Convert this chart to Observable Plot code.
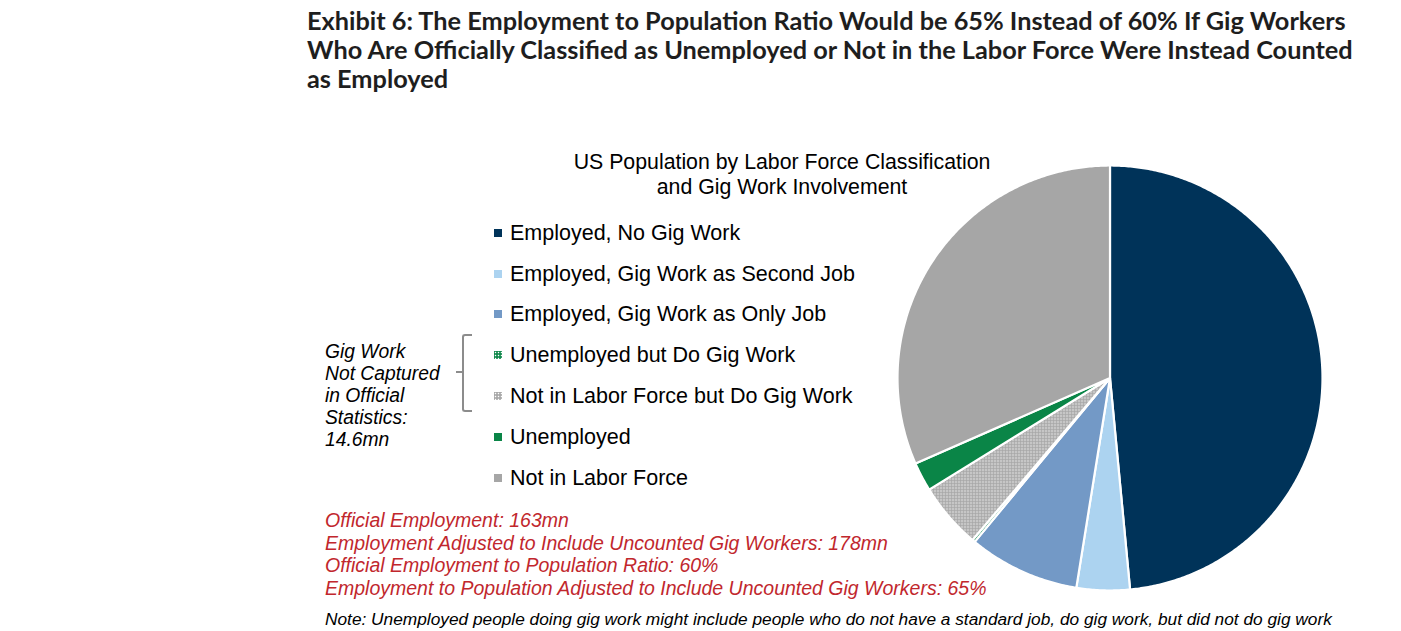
<!DOCTYPE html>
<html>
<head>
<meta charset="utf-8">
<script src="https://cdn.jsdelivr.net/npm/d3@7"></script>
<script src="https://cdn.jsdelivr.net/npm/@observablehq/plot@0.6"></script>
<style>
  body { margin: 0; background: #fff; }
  #wrap { position: relative; width: 1401px; height: 631px; overflow: hidden; font-family: "Liberation Sans", Arial, sans-serif; color: #000; }
  .abs { position: absolute; white-space: nowrap; }
  #title { left: 307px; top: 6px; font-family: Lato, "Open Sans", sans-serif; font-weight: 700; font-size: 25.3px; line-height: 29px; color: #1e1e1e; }
  #ctitle { left: 532px; width: 500px; top: 150px; text-align: center; font-size: 21.3px; line-height: 25px; }
  .leg { left: 494px; font-size: 21.5px; line-height: 24px; display: flex; align-items: center; }
  .leg .sw { width: 8px; height: 8px; margin-right: 8px; }
  #gig { left: 325px; top: 341px; font-size: 19.3px; line-height: 22px; font-style: italic; }
  #red { left: 325px; top: 509px; font-size: 19.5px; line-height: 22.5px; font-style: italic; color: #c1272d; }
  #note { left: 325px; top: 608px; font-size: 17.3px; line-height: 22px; font-style: italic; }
  #brace { left: 462px; top: 334px; width: 8px; height: 74px; border: 2px solid #8c8c8c; border-right: none; border-radius: 3px 0 0 3px; }
  #brace2 { left: 456px; top: 371px; width: 7px; height: 0; border-top: 2px solid #8c8c8c; }
  #pie { left: 897px; top: 165px; }
  #pie svg { overflow: visible; }
</style>
</head>
<body>
<svg width="0" height="0" style="position:absolute">
  <defs>
    <pattern id="dotsGray" patternUnits="userSpaceOnUse" width="3" height="3">
      <rect width="3" height="3" fill="#a6a6a6"></rect>
      <rect x="0.8" y="0.8" width="1.4" height="1.4" fill="#ffffff"></rect>
    </pattern>
    <pattern id="dotsGreen" patternUnits="userSpaceOnUse" width="3" height="3">
      <rect width="3" height="3" fill="#0a8547"></rect>
      <rect x="0.8" y="0.8" width="1.4" height="1.4" fill="#ffffff"></rect>
    </pattern>
  </defs>
</svg>
<div id="wrap">
  <div id="title" class="abs"></div>
  <div id="ctitle" class="abs">US Population by Labor Force Classification<br>and Gig Work Involvement</div>
  <div id="legend"></div>
  <div id="gig" class="abs">Gig Work<br>Not Captured<br>in Official<br>Statistics:<br>14.6mn</div>
  <div id="brace" class="abs"></div>
  <div id="brace2" class="abs"></div>
  <div id="red" class="abs"></div>
  <div id="note" class="abs">Note: Unemployed people doing gig work might include people who do not have a standard job, do gig work, but did not do gig work</div>
  <div id="pie" class="abs"></div>
</div>
<script>
// ---- data (millions of people) ----
const categories = [
  "Employed, No Gig Work",
  "Employed, Gig Work as Second Job",
  "Employed, Gig Work as Only Job",
  "Unemployed but Do Gig Work",
  "Not in Labor Force but Do Gig Work",
  "Unemployed",
  "Not in Labor Force"
];
const values = [132, 11, 23, 0.6, 13.6, 6, 86];
const colors = ["#003359", "#acd3f0", "#7399c6", "url(#dotsGreen)", "url(#dotsGray)", "#0a8547", "#a6a6a6"];
const legendTops = [221, 261.5, 302, 343, 384, 425, 466];
const titleLines = [
  "Exhibit 6: The Employment to Population Ratio Would be 65% Instead of 60% If Gig Workers",
  "Who Are Officially Classified as Unemployed or Not in the Labor Force Were Instead Counted",
  "as Employed"
];
const notes = [
  "Official Employment: 163mn",
  "Employment Adjusted to Include Uncounted Gig Workers: 178mn",
  "Official Employment to Population Ratio: 60%",
  "Employment to Population Adjusted to Include Uncounted Gig Workers: 65%"
];

document.getElementById("title").innerHTML = titleLines.join("<br>");
document.getElementById("red").innerHTML = notes.join("<br>");

const legend = document.getElementById("legend");
categories.forEach((c, i) => {
  const d = document.createElement("div");
  d.className = "abs leg";
  d.style.top = legendTops[i] + "px";
  const sw = document.createElement("span");
  sw.className = "sw";
  if (colors[i].startsWith("url")) {
    sw.innerHTML = `<svg width="8" height="8" style="display:block"><rect width="8" height="8" fill="${colors[i]}"/></svg>`;
  } else {
    sw.style.background = colors[i];
  }
  d.appendChild(sw);
  d.appendChild(document.createTextNode(c));
  legend.appendChild(d);
});

// ---- pie geometry from d3.pie, drawn through Plot's x/y scales ----
const slices = d3.pie().sort(null).value(d => d.value)(categories.map((c, i) => ({category: c, value: values[i], fill: colors[i]})));
function slicePoints(s) {
  const pts = [{x: 0, y: 0}];
  const n = Math.max(2, Math.ceil((s.endAngle - s.startAngle) / (Math.PI / 360)));
  for (let k = 0; k <= n; k++) {
    const a = s.startAngle + (s.endAngle - s.startAngle) * k / n;
    pts.push({x: Math.sin(a), y: Math.cos(a)});
  }
  pts.push({x: 0, y: 0});
  return pts;
}

const size = 425;
const chart = Plot.plot({
  width: size,
  height: size,
  margin: 0,
  x: {domain: [-1, 1], axis: null},
  y: {domain: [-1, 1], axis: null},
  marks: slices.map(s => Plot.line(slicePoints(s), {
    x: "x", y: "y", fill: s.data.fill, stroke: "#ffffff", strokeWidth: 2.2, strokeLinejoin: "round"
  }))
});
document.getElementById("pie").appendChild(chart);
</script>
</body>
</html>
